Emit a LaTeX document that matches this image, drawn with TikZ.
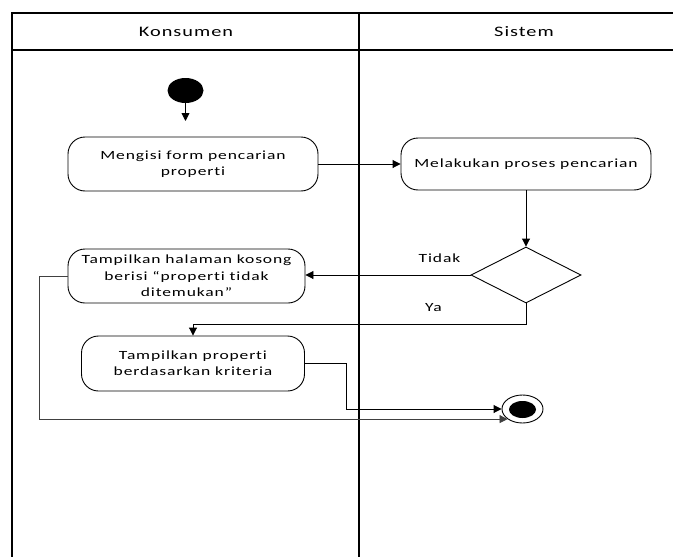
\documentclass[tikz,border=0pt]{standalone}
\usepackage{fontspec}
\setmainfont{Carlito}[FakeStretch=1.4,LetterSpace=7,Ligatures=NoCommon]
\usetikzlibrary{shapes.geometric,arrows.meta}

\begin{document}
\begin{tikzpicture}[x=1pt,y=-1pt,
  lane/.style={line width=1.3pt},
  act/.style={draw,line width=0.9pt,rounded corners=17pt,align=center,
    font=\fontsize{12.5}{16.3}\selectfont,inner sep=0pt},
  flow/.style={line width=0.9pt,-{Triangle[length=8pt,width=8pt]}},
  lbl/.style={font=\fontsize{12.5}{14}\selectfont,inner sep=0pt},
  head/.style={font=\fontsize{14.5}{16}\selectfont,inner sep=0pt}]
\useasboundingbox (0,0) rectangle (673,557);

% swimlane frame
\draw[lane] (673,13) -- (12,13) -- (12,557);
\draw[lane] (12,50) -- (673,50);
\draw[lane] (359,13) -- (359,557);
\node[head] (hk) at (186,32) {Konsumen};
\node[head] (hs) at (524,32) {Sistem};

% initial and final states
\node[ellipse,fill=black,inner sep=0pt,minimum width=36pt,minimum height=25pt] (S) at (185.5,90.5) {};
\coordinate (Sx) at (185.5,121);
\node[ellipse,draw,line width=0.9pt,inner sep=0pt,minimum width=41pt,minimum height=28pt] (F) at (522.5,409) {};
\node[ellipse,fill=black,inner sep=0pt,minimum width=27pt,minimum height=17pt] (Fi) at (522.5,409.5) {};

% activities
\node[act,minimum width=250pt,minimum height=54pt] (A) at (193,164) {Mengisi form pencarian\\properti};
\node[act,minimum width=250pt,minimum height=52pt] (B) at (526,164) {Melakukan proses pencarian};
\node[diamond,draw,line width=0.9pt,inner sep=0pt,minimum width=110pt,minimum height=56pt] (D) at (526,275) {};
\node[act,minimum width=237pt,minimum height=54pt] (C) at (186.5,276) {Tampilkan halaman kosong\\berisi “properti tidak\\ditemukan”};
\node[act,minimum width=223pt,minimum height=55pt] (E) at (193,363.5) {Tampilkan properti\\berdasarkan kriteria};

% flows
\draw[flow] (S) -- (Sx);
\draw[flow] (A.east) -- (B.west);
\draw[flow] (B.south) -- (D.north);
\draw[flow] (D.west) -- (D.west -| C.east);
\draw[flow] (D.south) -- ++(0,21) -| (E.north);
\draw[flow] (E.east) -- ++(41,0) |- (F.west);
\draw[flow,draw=black!75] (C.west) -- ++(-28,0) |- (F.214);

% guard labels
\node[lbl] (lt) at (439.5,258) {Tidak};
\node[lbl] (ly) at (433.5,308) {Ya};
\end{tikzpicture}
\end{document}
